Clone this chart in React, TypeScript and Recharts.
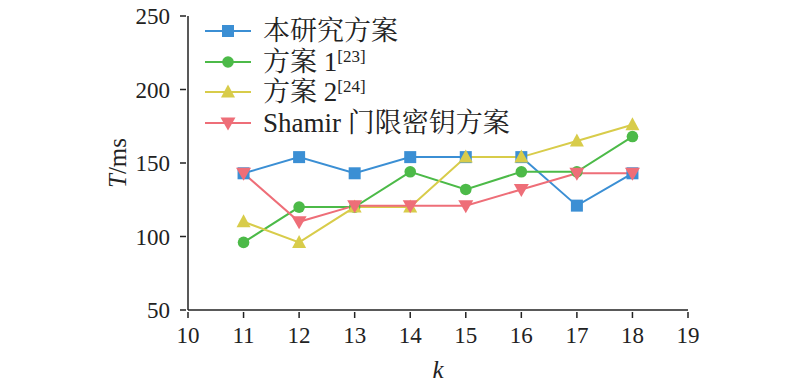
import { Line, LineChart, XAxis, YAxis } from "recharts";

const kValues = [11, 12, 13, 14, 15, 16, 17, 18];
const ourScheme = [143, 154, 143, 154, 154, 154, 121, 143];
const scheme1 = [96, 120, 120, 144, 132, 144, 144, 168];
const scheme2 = [110, 96, 120, 120, 154, 154, 165, 176];
const shamir = [143, 110, 121, 121, 121, 132, 143, 143];

const xTicks = [10, 11, 12, 13, 14, 15, 16, 17, 18, 19];
const yTicks = [50, 100, 150, 200, 250];

const FONT = '"Liberation Serif", "Times New Roman", serif';
const CJK = '"Liberation Serif", "Noto Serif CJK SC", "Noto Sans CJK SC", serif';

const series = [
  { key: "a", name: "本研究方案", sup: "", color: "#3b8fd4", shape: "square" },
  { key: "b", name: "方案 1", sup: "[23]", color: "#4cba48", shape: "circle" },
  { key: "c", name: "方案 2", sup: "[24]", color: "#d8cc4a", shape: "up" },
  { key: "d", name: "Shamir 门限密钥方案", sup: "", color: "#ee6e78", shape: "down" },
];

const data = kValues.map((k, i) => ({
  k,
  a: ourScheme[i],
  b: scheme1[i],
  c: scheme2[i],
  d: shamir[i],
}));

function Marker({ cx, cy, shape, color }: any) {
  if (cx == null || cy == null) return null;
  if (shape === "square") return <rect x={cx - 6} y={cy - 6} width={12} height={12} fill={color} />;
  if (shape === "circle") return <circle cx={cx} cy={cy} r={5.8} fill={color} />;
  if (shape === "up")
    return <polygon points={`${cx},${cy - 7.5} ${cx + 7},${cy + 5.5} ${cx - 7},${cy + 5.5}`} fill={color} />;
  return <polygon points={`${cx - 7.5},${cy - 5.5} ${cx + 7.5},${cy - 5.5} ${cx},${cy + 7.5}`} fill={color} />;
}

function XTick({ x, y, payload }: any) {
  return (
    <g>
      <line x1={x} y1={y} x2={x} y2={y - 6} stroke="#222" strokeWidth={1.5} />
      <text x={x} y={y + 25} textAnchor="middle" fontSize={23} fontFamily={FONT} fill="#222">
        {payload.value}
      </text>
    </g>
  );
}

function YTick({ x, y, payload }: any) {
  return (
    <g>
      <line x1={x} y1={y} x2={x + 6} y2={y} stroke="#222" strokeWidth={1.5} />
      <text x={x - 10} y={y + 8} textAnchor="end" fontSize={23} fontFamily={FONT} fill="#222">
        {payload.value}
      </text>
    </g>
  );
}

function LegendBox() {
  return (
    <div
      style={{
        position: "absolute",
        left: 203,
        top: 16,
        fontFamily: CJK,
        fontSize: 27,
        color: "#222",
        lineHeight: "30.5px",
      }}
    >
      {series.map((s) => (
        <div key={s.key} style={{ display: "flex", alignItems: "center", height: 30.5, whiteSpace: "nowrap" }}>
          <svg width={50} height={20} style={{ marginRight: 10, flexShrink: 0 }}>
            <line x1={2} y1={10} x2={48} y2={10} stroke={s.color} strokeWidth={2} />
            <Marker cx={25} cy={10} shape={s.shape} color={s.color} />
          </svg>
          <span>
            {s.name}
            {s.sup && <sup style={{ fontSize: 17, verticalAlign: "9px", lineHeight: 0 }}>{s.sup}</sup>}
          </span>
        </div>
      ))}
    </div>
  );
}

export default function App() {
  return (
    <div style={{ position: "absolute", left: 0, top: 0, width: 800, height: 385, background: "#fff" }}>
      <LineChart width={800} height={385} data={data} margin={{ top: 16, right: 112, bottom: 0, left: 0 }}>
        <XAxis
          dataKey="k"
          type="number"
          domain={[10, 19]}
          ticks={xTicks}
          interval={0}
          height={75}
          tickLine={false}
          tick={<XTick />}
          axisLine={{ stroke: "#222", strokeWidth: 1.5 }}
          label={{
            value: "k",
            position: "insideBottom",
            offset: 7,
            style: { fontFamily: FONT, fontStyle: "italic", fontSize: 25, fill: "#222" },
          }}
        />
        <YAxis
          type="number"
          domain={[50, 250]}
          ticks={yTicks}
          interval={0}
          width={188}
          tickLine={false}
          tick={<YTick />}
          axisLine={{ stroke: "#222", strokeWidth: 1.5 }}
          label={(props: any) => {
            const vb = props.viewBox;
            const cx = 126;
            const cy = vb.y + vb.height / 2;
            return (
              <text
                x={cx}
                y={cy}
                transform={`rotate(-90 ${cx} ${cy})`}
                textAnchor="middle"
                fontSize={25}
                fontFamily={FONT}
                fill="#222"
              >
                <tspan fontStyle="italic">T</tspan>
                <tspan>/ms</tspan>
              </text>
            );
          }}
        />
        {series.map((s) => (
          <Line
            key={s.key}
            dataKey={s.key}
            name={s.name}
            stroke={s.color}
            strokeWidth={2}
            isAnimationActive={false}
            dot={(p: any) => <Marker key={`${s.key}-${p.index}`} cx={p.cx} cy={p.cy} shape={s.shape} color={s.color} />}
            activeDot={false}
          />
        ))}
      </LineChart>
      <LegendBox />
    </div>
  );
}
